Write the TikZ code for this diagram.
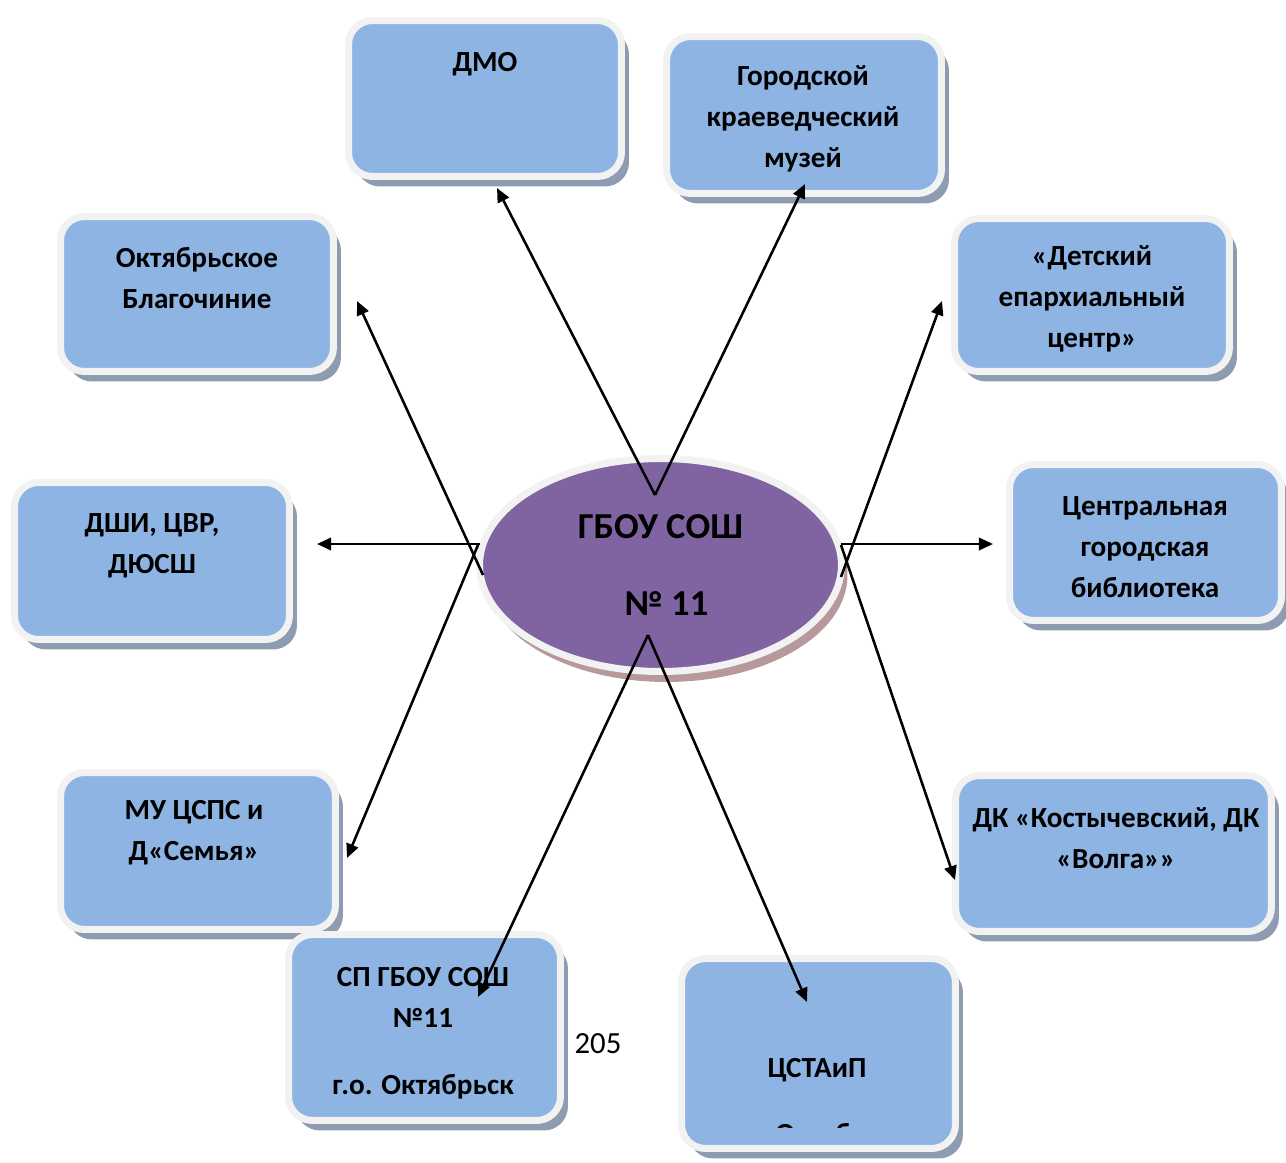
\documentclass[tikz,border=0pt]{standalone}
\usepackage{fontspec}
\setmainfont{Carlito}
\usetikzlibrary{shapes.geometric,shadows,arrows.meta}
\definecolor{boxblue}{HTML}{8EB4E3}
\definecolor{boxrim}{HTML}{F2F2F2}
\definecolor{boxshade}{HTML}{8D9CB1}
\definecolor{schoolviolet}{HTML}{8064A2}
\definecolor{schoolshade}{HTML}{B7999B}
\begin{document}
\begin{tikzpicture}[x=0.02cm, y=-0.02cm,
		partner/.style={rectangle, rounded corners=0.48cm, draw=boxrim, line width=0.14cm, fill=boxblue, inner sep=0pt, drop shadow={shadow xshift=0.15cm, shadow yshift=-0.2cm, fill=boxshade, opacity=1}},
		school/.style={ellipse, draw=boxrim, line width=0.14cm, fill=schoolviolet, inner sep=0pt, minimum width=7.24cm, minimum height=4.26cm, align=center, font=\bfseries\fontsize{20.8}{26}\selectfont, drop shadow={shadow xshift=0.12cm, shadow yshift=-0.21cm, fill=schoolshade, opacity=1}},
		caption/.style={align=center, inner sep=0pt, font=\bfseries\fontsize{16.6}{23.3}\selectfont},
		link/.style={line width=1.45pt, -{Triangle[length=8pt, width=7pt]}}]
		\useasboundingbox (0,0) rectangle (1286,1163);
		\node[partner, minimum width=5.46cm, minimum height=3.12cm] (dmo) at (485,98.5) {};
		\node[partner, minimum width=5.5cm, minimum height=3.14cm] (muzey) at (804,115) {};
		\node[partner, minimum width=5.46cm, minimum height=3.1cm] (blago) at (197,294) {};
		\node[partner, minimum width=5.5cm, minimum height=3.06cm] (eparh) at (1092,295) {};
		\node[partner, minimum width=5.5cm, minimum height=3.14cm] (dshi) at (152,561) {};
		\node[partner, minimum width=5.44cm, minimum height=3.12cm] (biblio) at (1145.5,542.5) {};
		\node[partner, minimum width=5.5cm, minimum height=3.14cm] (cspsd) at (198,851) {};
		\node[partner, minimum width=6.32cm, minimum height=3.12cm] (dk) at (1113.5,853.5) {};
		\node[partner, minimum width=5.44cm, minimum height=3.72cm] (spsosh) at (424.5,1027.5) {};
		\node[partner, minimum width=5.48cm, minimum height=3.8cm] (cstaip) at (818.5,1053.5) {};
		\node[school] (sosh) at (660.5,565) {ГБОУ СОШ\\[0.64cm]\hspace*{0.24cm}№ 11};
		\node[caption] (dmo text) at (485,64) {ДМО};
		\node[caption] (muzey text) at (803,119) {Городской\\краеведческий\\музей};
		\node[caption] (blago text) at (197,278) {Октябрьское\\Благочиние};
		\node[caption] (eparh text) at (1092,299) {«Детский\\епархиальный\\центр»};
		\node[caption] (dshi text) at (152,546) {ДШИ, ЦВР,\\ДЮСШ};
		\node[caption] (biblio text) at (1145,547.5) {Центральная\\городская\\библиотека};
		\node[caption] (cspsd text) at (194,833) {МУ ЦСПС и\\Д«Семья»};
		\node[caption] (dk text) at (1116,838) {ДК «Костычевский, ДК\\«Волга»»};
		\node[caption] (spsosh text) at (423,1033) {СП ГБОУ СОШ\\№11\\[0.52cm]г.о. Октябрьск};
		\node[caption] (cstaip text) at (817,1070) {ЦСТАиП};
		\begin{scope}
			\clip (685,1100) rectangle (952,1127.5);
			\node[caption, anchor=base] (cstaip town) at (817,1143) {г.о. Октябрьск};
		\end{scope}
		\node[inner sep=0pt, font=\fontsize{17.5}{21}\selectfont] (page) at (598,1044) {205};
		\coordinate (up) at (655,495);
		\coordinate (down) at (648,635);
		\coordinate (west a) at (480,544);
		\coordinate (west b) at (483,575);
		\coordinate (west c) at (478,545);
		\coordinate (east a) at (841,544);
		\coordinate (east b) at (841,577);
		\coordinate (east c) at (841,545);
		\coordinate (dmo end) at (497,188);
		\coordinate (muzey end) at (805,184);
		\coordinate (blago end) at (357,301);
		\coordinate (dshi end) at (317,544);
		\coordinate (eparh end) at (942,301);
		\coordinate (biblio end) at (993,544);
		\coordinate (cspsd end) at (347,858);
		\coordinate (dk end) at (955,880);
		\coordinate (spsosh end) at (478,997);
		\coordinate (cstaip end) at (807,1002);
		\draw[link] (up)--(dmo end);
		\draw[link] (up)--(muzey end);
		\draw[link] (west b)--(blago end);
		\draw[link] (west a)--(dshi end);
		\draw[link] (west c)--(cspsd end);
		\draw[link] (east b)--(eparh end);
		\draw[link] (east a)--(biblio end);
		\draw[link] (east c)--(dk end);
		\draw[link] (down)--(spsosh end);
		\draw[link] (down)--(cstaip end);
	\end{tikzpicture}
\end{document}
